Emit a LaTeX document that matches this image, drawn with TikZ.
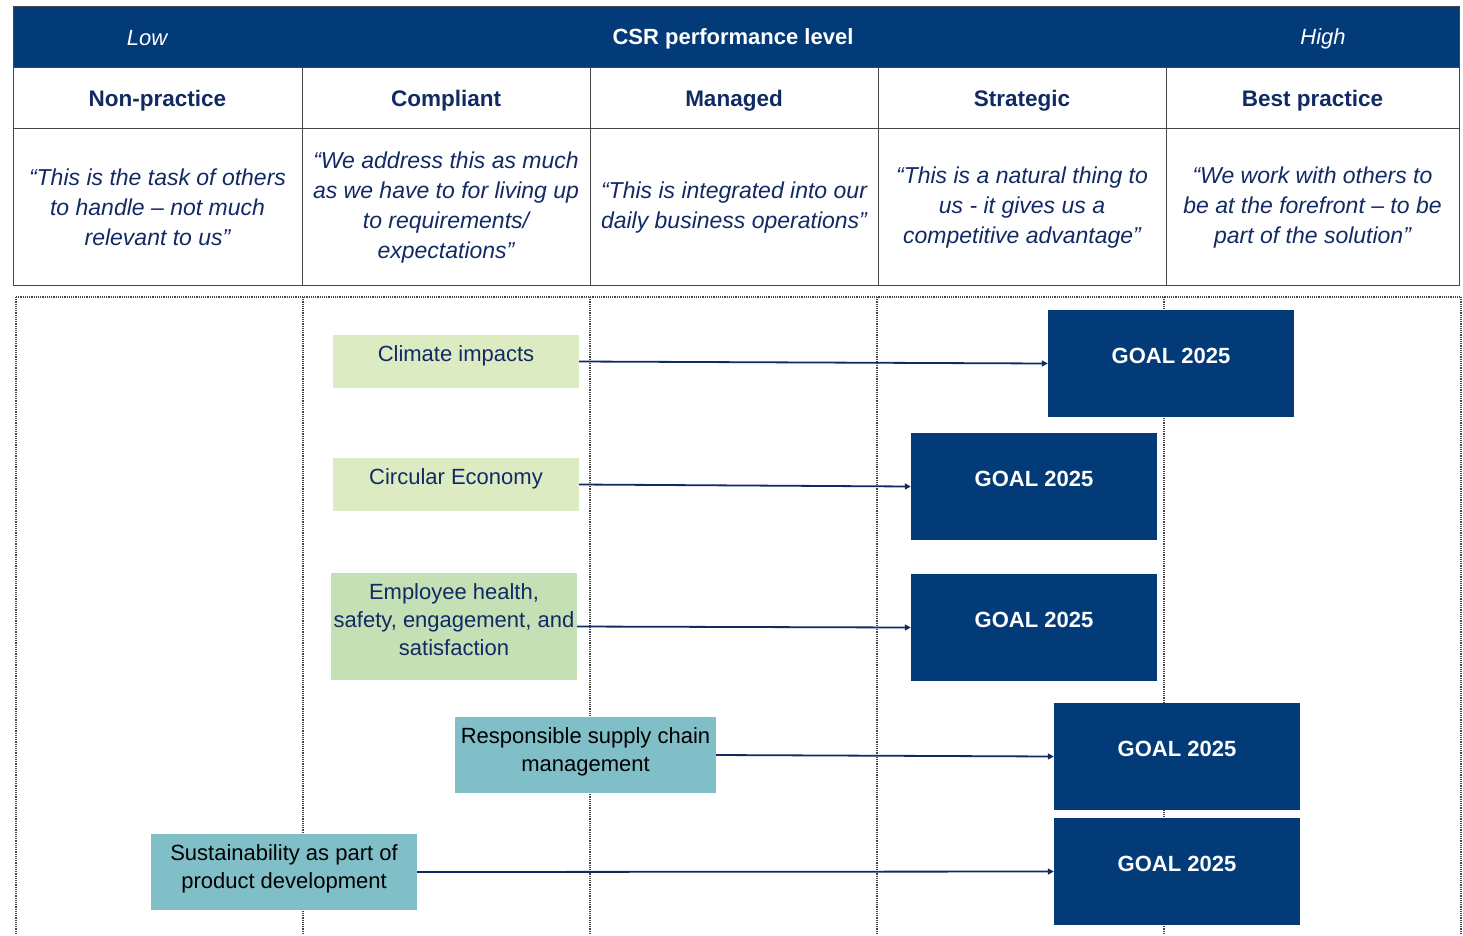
\documentclass[tikz,border=0pt]{standalone}
\usepackage{fontspec}
\setmainfont{Liberation Sans}
\usetikzlibrary{arrows.meta,positioning}
\definecolor{csrblue}{RGB}{3,58,120}
\definecolor{csrtext}{RGB}{18,42,100}
\definecolor{palegreen}{RGB}{221,235,195}
\definecolor{midgreen}{RGB}{197,224,180}
\definecolor{supplyteal}{RGB}{128,190,200}
\definecolor{gridgray}{RGB}{70,70,70}
\tikzset{
  bandtext/.style={text=white, font=\fontsize{22}{28}\selectfont},
  levelhead/.style={text=csrtext, font=\bfseries\fontsize{22.5}{28}\selectfont},
  quote/.style={text=csrtext, align=center, font=\itshape\fontsize{23}{30}\selectfont},
  topic/.style={inner sep=0pt, align=center, font=\fontsize{22}{28}\selectfont},
  goal/.style={fill=csrblue, text=white, inner sep=0pt, minimum width=246pt,
    text height=53pt, text depth=54pt, font=\bfseries\fontsize{22}{28}\selectfont},
  flow/.style={draw=csrtext, line width=1.8pt, -{Triangle[length=6pt,width=6pt]}}
}
\begin{document}
\begin{tikzpicture}[x=1pt,y=-1pt]
	\useasboundingbox (0,0) rectangle (1463,935);
	% table head
	\fill[csrblue] (13,6) rectangle (1459,67);
	\draw[gridgray, line width=1pt] (13,6) rectangle (1459,285);
	\draw[gridgray, line width=1pt] (13,67) -- (1459,67);
	\draw[gridgray, line width=0.8pt] (13,128) -- (1459,128);
	\foreach \x in {302,590,878,1166}
		\draw[gridgray, line width=0.8pt] (\x,67) -- (\x,285);
	\node[bandtext, font=\itshape\fontsize{22}{28}\selectfont] (low) at (147,38.5) {Low};
	\node[bandtext, font=\bfseries\fontsize{22}{28}\selectfont] (csr) at (733,38.5) {CSR performance level};
	\node[bandtext, font=\itshape\fontsize{22}{28}\selectfont] (high) at (1323,38.5) {High};
	\foreach \x/\lvl/\name in {157.5/nonpr/Non-practice, 446/compl/Compliant, 734/manag/Managed, 1022/strat/Strategic, 1312.5/bestpr/Best practice}
		\node[levelhead] (\lvl) at (\x,100.5) {\name};
	\node[quote] (q1) at (157.5,207.5) {“This is the task of others\\to handle – not much\\relevant to us”};
	\node[quote] (q2) at (446,207.5) {“We address this as much\\as we have to for living up\\to requirements/\\expectations”};
	\node[quote] (q3) at (734,207.5) {“This is integrated into our\\daily business operations”};
	\node[quote] (q4) at (1022,207.5) {“This is a natural thing to\\us - it gives us a\\competitive advantage”};
	\node[quote] (q5) at (1312.5,207.5) {“We work with others to\\be at the forefront – to be\\part of the solution”};
	% dotted columns
	\draw[gridgray, densely dotted, line width=1.2pt] (16,297) -- (1461,297);
	\foreach \x in {16,303,590,877,1164,1461}
		\draw[gridgray, densely dotted, line width=1.2pt] (\x,297) -- (\x,935);
	% topics
	\node[topic, fill=palegreen, text=csrtext, minimum width=246pt, text height=26pt, text depth=27pt] (climate) at (456,361.5) {Climate impacts};
	\node[topic, fill=palegreen, text=csrtext, minimum width=246pt, text height=26pt, text depth=27pt] (circular) at (456,484.5) {Circular Economy};
	\node[topic, fill=midgreen, text=csrtext, minimum width=246pt, text height=82pt, text depth=25pt] (employee) at (454,626.5) {Employee health,\\safety, engagement, and\\satisfaction};
	\node[topic, fill=supplyteal, text=black, minimum width=261pt, text height=54pt, text depth=22pt] (supply) at (585.5,755) {Responsible supply chain\\management};
	\node[topic, fill=supplyteal, text=black, minimum width=266pt, text height=54pt, text depth=22pt] (product) at (284,872) {Sustainability as part of\\product development};
	% goals
	\node[goal] (g1) at (1171,363.5) {GOAL 2025};
	\node[goal] (g2) at (1034,486.5) {GOAL 2025};
	\node[goal] (g3) at (1034,627.5) {GOAL 2025};
	\node[goal] (g4) at (1177,756.5) {GOAL 2025};
	\node[goal] (g5) at (1177,871.5) {GOAL 2025};
	\draw[flow] (climate.east) -- (g1.west);
	\draw[flow] (circular.east) -- (g2.west);
	\draw[flow] (employee.east) -- (g3.west);
	\draw[flow] (supply.east) -- (g4.west);
	\draw[flow] (product.east) -- (g5.west);
\end{tikzpicture}
\end{document}
